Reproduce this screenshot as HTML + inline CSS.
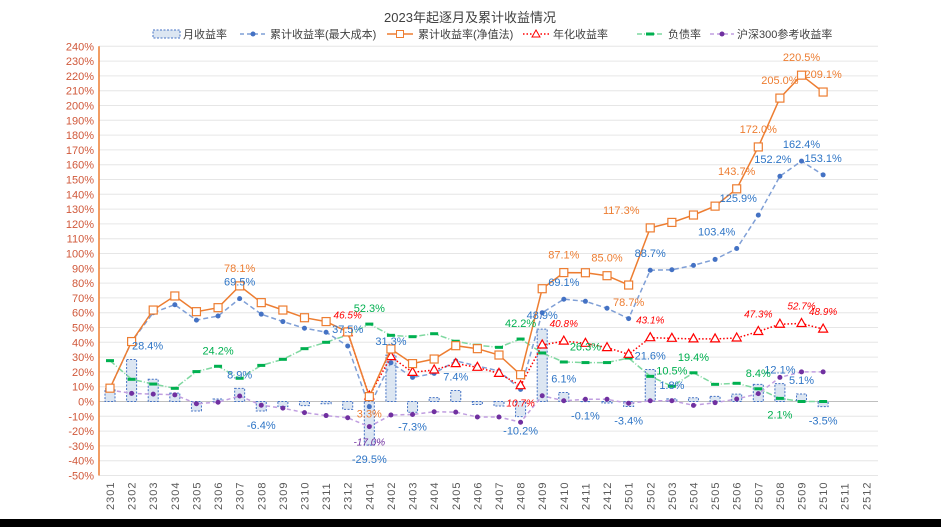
<!DOCTYPE html>
<html><head><meta charset="utf-8">
<style>
html,body{margin:0;padding:0;background:#fff;}
svg{display:block;font-family:"Liberation Sans","Noto Sans CJK SC",sans-serif;}
</style></head>
<body>
<svg id="chart" width="941" height="527" viewBox="0 0 941 527">
<rect x="0" y="0" width="941" height="527" fill="#fff"/>
<rect x="0" y="519" width="941" height="8" fill="#000"/>
<text x="470" y="22" text-anchor="middle" font-size="13" fill="#404040">2023年起逐月及累计收益情况</text>
<g id="legend" font-size="11" fill="#404040">
 <g><rect x="153" y="30" width="27" height="8" fill="#dce6f2" stroke="#4472c4" stroke-dasharray="2,1.5"/><text x="183" y="38">月收益率</text></g>
 <g><line x1="240" y1="34" x2="266" y2="34" stroke="#7f9fd6" stroke-width="1.5" stroke-dasharray="4,3"/><circle cx="253" cy="34" r="2.5" fill="#4472c4"/><text x="270" y="38">累计收益率(最大成本)</text></g>
 <g><line x1="387" y1="34" x2="413" y2="34" stroke="#ed7d31" stroke-width="1.5"/><rect x="396.5" y="30.5" width="7" height="7" fill="#fff" stroke="#ed7d31"/><text x="418" y="38">累计收益率(净值法)</text></g>
 <g><line x1="523" y1="34" x2="549" y2="34" stroke="#ff0000" stroke-width="1.5" stroke-dasharray="1.5,2"/><path d="M536,30 L540,37 L532,37 Z" fill="#fff" stroke="#ff0000"/><text x="553" y="38">年化收益率</text></g>
 <g><line x1="637" y1="34" x2="663" y2="34" stroke="#7fd8a0" stroke-width="1.5" stroke-dasharray="5,2,1,2"/><rect x="646" y="32.5" width="8" height="3" fill="#00b050"/><text x="668" y="38">负债率</text></g>
 <g><line x1="710" y1="34" x2="734" y2="34" stroke="#c09ee0" stroke-width="1.5" stroke-dasharray="4,3"/><circle cx="722" cy="34" r="2.5" fill="#7030a0"/><text x="737" y="38">沪深300参考收益率</text></g>
</g>
<g id="grid"></g>
<g id="axes"></g>
<g id="bars"></g>
<g id="lines"></g>
<g id="labels"></g>
</svg>
<script>
const categories = ["2301","2302","2303","2304","2305","2306","2307","2308","2309","2310","2311","2312","2401","2402","2403","2404","2405","2406","2407","2408","2409","2410","2411","2412","2501","2502","2503","2504","2505","2506","2507","2508","2509","2510","2511","2512"];
const monthly = [8.5,28.4,15,5.7,-6.4,1.7,8.9,-6.4,-3.5,-2.8,-1.5,-5.3,-29.5,31.3,-7.3,2.6,7.4,-2,-3,-10.2,48.9,6.1,-0.1,-1,-3.4,21.6,1.8,2.5,3.5,5,11.6,12.1,5.1,-3.5,null,null];
const cumMaxCost = [9,40.4,60,65.4,55,57.8,69.5,59,54,49.5,46.8,37.5,-3.5,26.2,16.3,19,27.4,24,20.6,8.2,60,69.1,67.7,63,56,88.7,89,92,96,103.4,125.9,152.2,162.4,153.1,null,null];
const cumNav = [9,40.5,61.8,71.3,60.7,63.4,78.1,66.8,61.8,56.6,54,47,3.3,35.5,25.6,28.7,37.7,35.7,31.4,18.1,76.2,87.1,87,85,78.7,117.3,121,126,132,143.7,172,205,220.5,209.1,null,null];
const annualized = [null,null,null,null,null,null,null,null,null,null,null,46.5,3.7,30.3,19.7,21.3,25.6,23.1,19,10.7,38.2,40.8,39.3,36.4,31.9,43.1,42.7,42.3,42.3,42.9,47.3,52.2,52.7,48.9,null,null];
const debtRatio = [27.6,15,11.8,8.9,20.2,23.8,15.7,24.4,28.5,35.7,40,45,52.3,44.7,43.8,45.8,40.7,38,36.6,42.2,32.8,26.7,26.3,26.3,29.4,17,10.3,19.4,11.6,12.3,8.6,2.1,0,0,null,null];
const csi300 = [7.8,5.5,5,4.5,-1.5,-0.5,3.7,-2.5,-4.5,-7.5,-9.5,-11,-17,-9.1,-8.8,-6.9,-7.2,-10.5,-10.5,-14,3.9,0.5,1.5,1.5,-1.2,0.5,0.5,-2.6,-0.8,1.7,5.3,16.3,20,20,null,null];
const yTicks = [-50,-40,-30,-20,-10,0,10,20,30,40,50,60,70,80,90,100,110,120,130,140,150,160,170,180,190,200,210,220,230,240];
// label annotations: [series, index, text, dx, dy]
const labelSeries = ["nav","nav","nav","nav","nav","nav","nav","nav","nav","nav","nav",
 "cum","cum","cum","cum","cum","cum","cum","cum","cum",
 "bar","bar","bar","bar","bar","bar","bar","bar","bar","bar","bar","bar","bar","bar","bar","bar","bar",
 "debt","debt","debt","debt","debt","debt","debt","debt",
 "ann","ann","ann","ann","ann","ann","ann","csi"];
const labelIndex = [6,12,21,23,24,25,29,30,31,32,33, 6,11,21,25,29,30,31,32,33,
 1,6,7,12,13,14,16,19,20,21,22,24,25,26,31,32,33,
 5,12,19,22,26,27,30,31, 11,19,21,25,30,32,33,12];
const labelText = ["78.1%","3.3%","87.1%","85.0%","78.7%","117.3%","143.7%","172.0%","205.0%","220.5%","209.1%",
 "69.5%","37.5%","69.1%","88.7%","103.4%","125.9%","152.2%","162.4%","153.1%",
 "28.4%","8.9%","-6.4%","-29.5%","31.3%","-7.3%","7.4%","-10.2%","48.9%","6.1%","-0.1%","-3.4%","21.6%","1.8%","12.1%","5.1%","-3.5%",
 "24.2%","52.3%","42.2%","26.3%","10.5%","19.4%","8.4%","2.1%",
 "46.5%","10.7%","40.8%","43.1%","47.3%","52.7%","48.9%","-17.0%"];

const X0 = 110, DX = 21.61, Y0 = 401.5, PY = 1.48, LEFT = 99, RIGHT = 878;
const xOf = i => X0 + i * DX;
const yOf = v => Y0 - v * PY;
const NS = "http://www.w3.org/2000/svg";
function mk(tag, parent, attrs){ const e=document.createElementNS(NS,tag); for(const k in attrs) e.setAttribute(k,attrs[k]); parent.appendChild(e); return e; }

const grid = document.getElementById('grid'), axes = document.getElementById('axes');
yTicks.forEach(t=>{
  const g = mk('line', grid, {x1:LEFT,x2:RIGHT,y1:yOf(t),y2:yOf(t),stroke:t===0?'#bfbfbf':'#e6e6e6','stroke-width':1});
  
  
  const tx = mk('text', axes, {x:94,y:yOf(t)+4,'text-anchor':'end','font-size':11,fill:'#d0583a'});
  tx.textContent = t+'%';
  
  
});
const yl = mk('line', axes, {x1:LEFT,x2:LEFT,y1:yOf(240),y2:yOf(-50),stroke:'#ed7d31','stroke-width':1.5});


categories.forEach((c,i)=>{
  const tx = mk('text', axes, {transform:`translate(${xOf(i)+4},510) rotate(-90)`,'font-size':11,fill:'#595959','letter-spacing':'1'});
  tx.textContent = c;
  
  
});

const bars = document.getElementById('bars');
monthly.forEach((v,i)=>{
  if(v===null) return;
  const y1=Math.min(yOf(v),Y0), h=Math.abs(yOf(v)-Y0);
  const r = mk('rect', bars, {x:xOf(i)-5,y:y1,width:10,height:h,fill:'#dce6f2',stroke:'#4472c4','stroke-width':1,'stroke-dasharray':'2,1.5'});
  
  
});

const lines = document.getElementById('lines');
function path(arr){ let d='',s=false; arr.forEach((v,i)=>{ if(v===null){s=false;return;} d+=(s?'L':'M')+xOf(i).toFixed(1)+','+yOf(v).toFixed(1); s=true;}); return d; }
function series(arr,name,stroke,dash,marker){
  const p = mk('path', lines, {d:path(arr),fill:'none',stroke:stroke,'stroke-width':1.5,'stroke-dasharray':dash});
  
  
  arr.forEach((v,i)=>{ if(v===null) return; const m=marker(xOf(i),yOf(v));
    
     });
}
series(debtRatio,'debt-ratio','#7fd8a0','6,2,1,2',(x,y)=>mk('rect',lines,{x:x-4,y:y-1.5,width:8,height:3,fill:'#00b050'}));
series(csi300,'csi300','#c09ee0','4,3',(x,y)=>mk('circle',lines,{cx:x,cy:y,r:2.5,fill:'#7030a0'}));
series(cumMaxCost,'cumulative-max-cost','#7f9fd6','5,3',(x,y)=>mk('circle',lines,{cx:x,cy:y,r:2.5,fill:'#4472c4'}));
series(annualized,'annualized','#ff0000','1.5,2',(x,y)=>mk('path',lines,{d:`M${x},${y-5}L${x+4.5},${y+3}L${x-4.5},${y+3}Z`,fill:'#fff',stroke:'#ff0000','stroke-width':1.2}));
series(cumNav,'cumulative-nav','#ed7d31','',(x,y)=>mk('rect',lines,{x:x-4,y:y-4,width:8,height:8,fill:'#fff',stroke:'#ed7d31','stroke-width':1.2}));

const dataMap = {nav:cumNav,cum:cumMaxCost,bar:monthly,debt:debtRatio,ann:annualized,csi:csi300};
const colorMap = {nav:'#ed7d31',cum:'#2e75c6',bar:'#2e75c6',debt:'#00b050',ann:'#ff0000',csi:'#7030a0'};
const labelsG = document.getElementById('labels');
labelSeries.forEach((s,k)=>{
  const i=labelIndex[k], v=dataMap[s][i];
  let dy;
  if(s==='bar') dy = v<0?14:-14;
  else if(s==='nav') dy = (i===12||i===24)?17:-18;
  else if(s==='cum') dy = -17;
  else if(s==='debt') dy = (i===31)?16:-16;
  else if(s==='ann') dy = (i===19)?17:-18;
  else dy = 15;
  let dx = 0;
  if(s==='nav'&&i===25) dx=-29;
  if(s==='cum'&&(i===29||i===30)) dx=-20;
  if(s==='cum'&&i===31) dx=-7;
  if(s==='bar'&&i===1) dx=16;
  const ital = (s==='ann'||s==='csi');
  const t = mk('text', labelsG, {x:xOf(i)+dx,y:yOf(v)+dy+4,'text-anchor':'middle','font-size':ital?10:11,fill:colorMap[s],'font-style':ital?'italic':'normal'});
  t.textContent = labelText[k];
  
  
});
</script>
</body></html>
